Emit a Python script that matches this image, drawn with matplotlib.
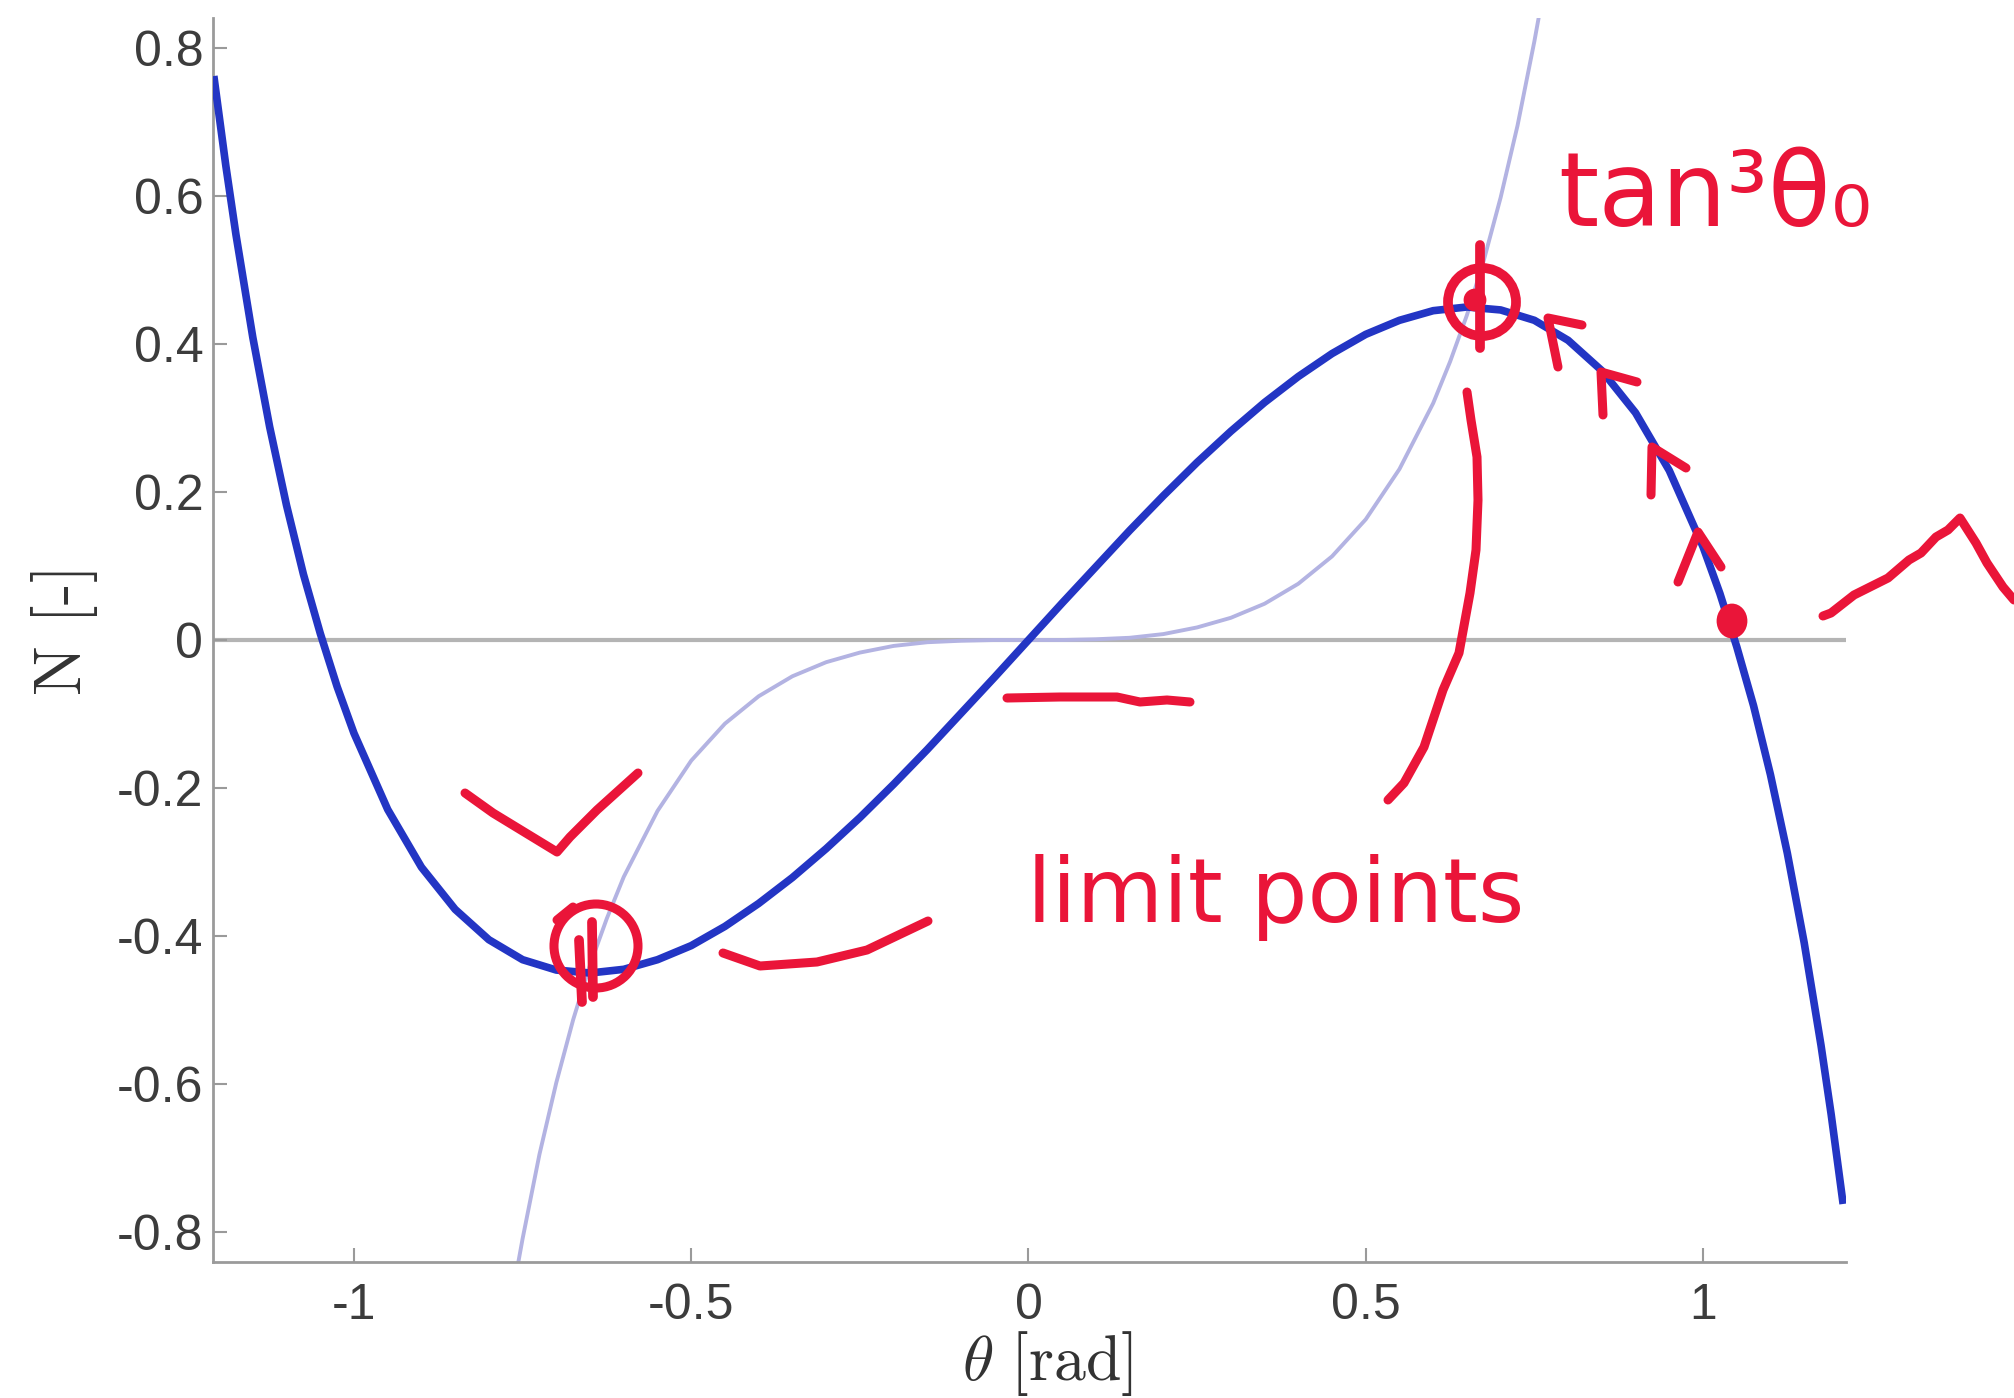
"""
N(theta) curve with hand-drawn red notes (limit points, tan^3 theta_0).
"""

import matplotlib
matplotlib.use('Agg')
import matplotlib.pyplot as plt
from matplotlib.lines import Line2D
from matplotlib.patches import Ellipse

# ===== data =====
# main curve N(theta), thick blue
theta_main = [-1.207, -1.190, -1.175, -1.150, -1.125, -1.100, -1.075, -1.050,
              -1.025, -1.000, -0.950, -0.900, -0.850, -0.800, -0.750, -0.700,
              -0.650, -0.600, -0.550, -0.500, -0.450, -0.400, -0.350, -0.300,
              -0.250, -0.200, -0.150, -0.100, -0.050, 0.000,
              0.050, 0.100, 0.150, 0.200, 0.250, 0.300, 0.350, 0.400,
              0.450, 0.500, 0.550, 0.600, 0.650, 0.700, 0.750, 0.800,
              0.850, 0.900, 0.950, 1.000, 1.025, 1.050, 1.075, 1.100,
              1.125, 1.150, 1.175, 1.190, 1.207]
n_main = [0.757, 0.641, 0.548, 0.409, 0.288, 0.182, 0.089, 0.009,
          -0.063, -0.126, -0.229, -0.307, -0.364, -0.405, -0.432, -0.446,
          -0.450, -0.445, -0.432, -0.413, -0.387, -0.356, -0.321, -0.282,
          -0.240, -0.195, -0.148, -0.099, -0.050, 0.000,
          0.050, 0.099, 0.148, 0.195, 0.240, 0.282, 0.321, 0.356,
          0.387, 0.413, 0.432, 0.445, 0.450, 0.446, 0.432, 0.405,
          0.364, 0.307, 0.229, 0.126, 0.063, -0.009, -0.089, -0.182,
          -0.288, -0.409, -0.548, -0.641, -0.757]

# faint curve (tan^3 theta)
theta_cubic = [-0.760, -0.750, -0.725, -0.700, -0.675, -0.650, -0.625, -0.600,
               -0.550, -0.500, -0.450, -0.400, -0.350, -0.300, -0.250, -0.200,
               -0.150, -0.100, -0.050, 0.000,
               0.050, 0.100, 0.150, 0.200, 0.250, 0.300, 0.350, 0.400,
               0.450, 0.500, 0.550, 0.600, 0.625, 0.650, 0.675, 0.700,
               0.725, 0.750, 0.760]
n_cubic = [-0.859, -0.809, -0.695, -0.598, -0.513, -0.439, -0.376, -0.320,
           -0.231, -0.163, -0.113, -0.076, -0.049, -0.030, -0.017, -0.008,
           -0.003, -0.001, -0.000, 0.000,
           0.000, 0.001, 0.003, 0.008, 0.017, 0.030, 0.049, 0.076,
           0.113, 0.163, 0.231, 0.320, 0.376, 0.439, 0.513, 0.598,
           0.695, 0.809, 0.859]

x_ticks = [-1, -0.5, 0, 0.5, 1]
x_tick_labels = ['-1', '-0.5', '0', '0.5', '1']
y_ticks = [-0.8, -0.6, -0.4, -0.2, 0, 0.2, 0.4, 0.6, 0.8]
y_tick_labels = ['-0.8', '-0.6', '-0.4', '-0.2', '0', '0.2', '0.4', '0.6', '0.8']

W, H = 2014, 1398
RED = '#EA1539'
BLUE = '#2335c4'
GREY = '#9a9a9a'

plt.rcParams['font.family'] = ['Liberation Sans', 'DejaVu Sans']
plt.rcParams['mathtext.fontset'] = 'cm'

fig = plt.figure(figsize=(W / 100, H / 100), dpi=100)
ax = fig.add_axes([213 / W, 1 - 1262 / H, (1846 - 213) / W, (1262 - 18) / H])

# zero line, faint cubic, main curve
ax.axhline(0, color='#b4b4b4', lw=3, zorder=1)
ax.plot(theta_cubic, n_cubic, color='#b3b3e2', lw=2.8, zorder=2,
        solid_joinstyle='round')
ax.plot(theta_main, n_main, color=BLUE, lw=5.5, zorder=3,
        solid_joinstyle='round')

ax.set_xlim(-1.209, 1.212)
ax.set_ylim(-0.8405, 0.8405)
ax.set_xticks(x_ticks)
ax.set_xticklabels(x_tick_labels)
ax.set_yticks(y_ticks)
ax.set_yticklabels(y_tick_labels)

for side in ['top', 'right']:
    ax.spines[side].set_visible(False)
for side in ['left', 'bottom']:
    ax.spines[side].set_color(GREY)
    ax.spines[side].set_linewidth(2)

ax.tick_params(direction='in', length=10, width=1.5, color=GREY,
               labelsize=36, labelcolor='#3c3c3c')
ax.tick_params(axis='x', pad=15)
ax.tick_params(axis='y', pad=7)

# axis labels (LaTeX look)
fig.text(1047 / W, 1 - 1364 / H, r'$\theta\ [\mathrm{rad}]$',
         fontsize=46, color='#333333', ha='center', va='center')
fig.text(64 / W, 1 - 629 / H, 'N [-]', family='cmr10',
         fontsize=48, color='#333333', ha='center', va='center', rotation=90)


# ===== red hand-drawn notes (figure pixel coordinates) =====
def ink(points, lw=6.5):
    xs = [p[0] / W for p in points]
    ys = [1 - p[1] / H for p in points]
    fig.add_artist(Line2D(xs, ys, transform=fig.transFigure, color=RED,
                          lw=lw, solid_capstyle='round',
                          solid_joinstyle='round', zorder=10))


def ring(cx, cy, rx, ry, filled=False, lw=6.5):
    fig.add_artist(Ellipse((cx / W, 1 - cy / H), 2 * rx / W, 2 * ry / H,
                           transform=fig.transFigure, fill=filled,
                           ec=RED, fc=RED, lw=lw, zorder=10))


ink([(465, 793), (493, 813), (557, 852), (570, 837), (597, 810), (638, 773)])
ink([(723, 953), (760, 966), (817, 962), (867, 950), (928, 921)])
ink([(1007, 698), (1060, 697), (1117, 697), (1140, 702), (1167, 700), (1190, 702)])
ink([(1467, 392), (1471, 420), (1477, 457), (1478, 500), (1476, 550),
     (1470, 593), (1459, 653), (1443, 690), (1424, 747), (1404, 783), (1388, 800)])
ink([(1558, 367), (1548, 318), (1582, 325)])
ink([(1603, 415), (1601, 372), (1637, 382)])
ink([(1651, 495), (1652, 447), (1686, 468)])
ink([(1678, 582), (1698, 532), (1721, 567)])
ink([(1823, 616), (1831, 613), (1854, 595), (1878, 583), (1888, 578),
     (1909, 560), (1921, 553), (1936, 537), (1948, 530), (1960, 518),
     (1976, 543), (1987, 563), (2003, 587), (2014, 600)])

# lower limit point
ring(596, 946, 42, 42)
ink([(579, 940), (582, 1002)], lw=7)
ink([(592, 922), (593, 997)], lw=7)
ink([(557, 920), (573, 907)])

# upper limit point
ring(1482, 302, 34, 34, lw=7)
ink([(1480, 245), (1480, 348)], lw=7)
ring(1475, 300, 10, 10, filled=True, lw=2)

# dot where the curve crosses zero
ring(1732, 621, 14, 16, filled=True, lw=2)

fig.text(1558 / W, 1 - 226 / H, 'tan³θ₀', family='DejaVu Sans',
         fontsize=74, color=RED, ha='left', va='baseline')
fig.text(1027 / W, 1 - 922 / H, 'limit points', family='DejaVu Sans',
         fontsize=64, color=RED, ha='left', va='baseline')

fig.savefig('out.png', dpi=100)
plt.close(fig)
